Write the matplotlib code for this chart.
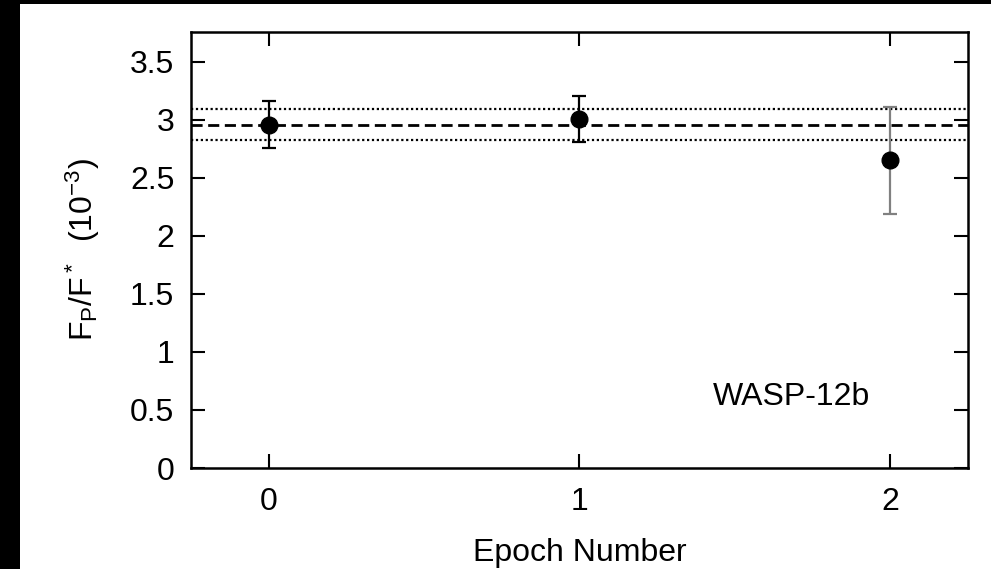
import numpy as np
import matplotlib
matplotlib.use('Agg')
import matplotlib.pyplot as plt
from matplotlib.patches import Rectangle

plt.rcParams['font.family'] = ['Liberation Sans', 'DejaVu Sans']
plt.rcParams['mathtext.fontset'] = 'custom'
plt.rcParams['mathtext.rm'] = 'Liberation Sans'
plt.rcParams['mathtext.it'] = 'Liberation Sans'

# eclipse depths per epoch (units of 1e-3)
epochs = [0, 1, 2]
depth = [2.96, 3.01, 2.65]
depth_err = [0.20, 0.20, 0.46]
err_colors = ['black', 'black', 'gray']

mean_depth = 2.96
mean_upper = 3.09
mean_lower = 2.83

fig = plt.figure(figsize=(9.91, 5.69), dpi=100)
fig.patch.set_facecolor('black')
# white page, black margin on top and left as in the scan
fig.patches.append(Rectangle((20 / 991, 0), 1, 1 - 4 / 569, transform=fig.transFigure,
                             facecolor='white', edgecolor='none', zorder=-10))

ax = fig.add_axes([0.1927, 0.1775, 0.7841, 0.7668])

ax.axhline(mean_depth, color='black', ls=(0, (4, 2)), lw=2.0, zorder=1)
ax.axhline(mean_upper, color='black', ls=(0, (1, 1.2)), lw=1.6, zorder=1)
ax.axhline(mean_lower, color='black', ls=(0, (1, 1.2)), lw=1.6, zorder=1)

for x, y, e, c in zip(epochs, depth, depth_err, err_colors):
    ax.errorbar(x, y, yerr=e, fmt='none', ecolor=c, elinewidth=1.6,
                capsize=5.3, capthick=1.6, zorder=2)
ax.plot(epochs, depth, 'o', color='black', ms=12, zorder=3)

ax.text(1.43, 0.61, 'WASP-12b', fontsize=23, va='center', ha='left')

ax.set_xlim(-0.25, 2.25)
ax.set_ylim(0, 3.76)
ax.set_xticks(epochs)
ax.set_yticks(np.arange(0, 3.6, 0.5))
ax.set_yticklabels(['0', '0.5', '1', '1.5', '2', '2.5', '3', '3.5'])

ax.tick_params(direction='in', length=10, width=1.5, top=True, right=True,
               labelsize=23)
ax.tick_params(axis='x', pad=14)
ax.tick_params(axis='y', pad=12)
for s in ax.spines.values():
    s.set_linewidth(1.8)

ax.set_xlabel('Epoch Number', fontsize=23, labelpad=15)
ax.set_ylabel(r'F$_\mathrm{P}$/F$^*$  (10$^{-3}$)', fontsize=23, labelpad=20)

fig.savefig('out.png', dpi=100, facecolor=fig.get_facecolor())
